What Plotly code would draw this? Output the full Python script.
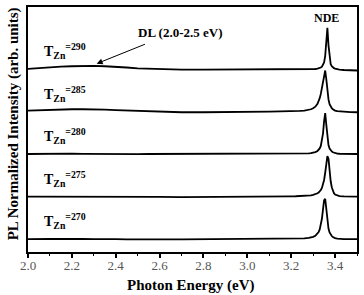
import plotly.graph_objects as go

energy = [2.00, 2.05, 2.10, 2.15, 2.20, 2.25, 2.30, 2.35, 2.40, 2.45,
          2.50, 2.55, 2.60, 2.70, 2.80, 2.90, 3.00, 3.05, 3.10, 3.15,
          3.20, 3.22, 3.24, 3.26, 3.28, 3.29, 3.30, 3.31, 3.32, 3.325,
          3.33, 3.335, 3.34, 3.345, 3.35, 3.355, 3.36, 3.365, 3.37, 3.375,
          3.38, 3.385, 3.39, 3.395, 3.40, 3.41, 3.42, 3.44, 3.47, 3.50]

pl_290 = [0.00, 0.02, 0.04, 0.05, 0.06, 0.07, 0.07, 0.06, 0.05, 0.03,
          0.01, 0.00, -0.01, -0.02, -0.02, -0.02, -0.02, -0.02, -0.02, -0.02,
          -0.02, -0.02, -0.02, -0.02, -0.015, -0.012, -0.01, -0.005, 0.003, 0.01,
          0.017, 0.03, 0.05, 0.085, 0.15, 0.30, 0.62, 0.96, 0.55, 0.23,
          0.11, 0.06, 0.03, 0.015, 0.005, -0.01, -0.018, -0.028, -0.035, -0.04]

pl_285 = [0.02, 0.03, 0.03, 0.04, 0.05, 0.05, 0.05, 0.04, 0.03, 0.02,
          0.01, 0.00, -0.01, -0.02, -0.02, -0.02, -0.015, -0.01, -0.005, 0.00,
          0.00, 0.005, 0.01, 0.02, 0.035, 0.05, 0.075, 0.11, 0.18, 0.23,
          0.31, 0.41, 0.55, 0.72, 0.88, 0.96, 0.76, 0.46, 0.28, 0.17,
          0.11, 0.075, 0.05, 0.03, 0.018, 0.005, 0.0, -0.01, -0.015, -0.02]

pl_280 = [0.00, 0.005, 0.00, 0.01, 0.01, 0.005, 0.00, 0.00, 0.005, 0.00,
          -0.005, 0.00, 0.00, 0.00, 0.00, 0.00, 0.00, 0.00, 0.00, 0.002,
          0.004, 0.005, 0.007, 0.011, 0.017, 0.022, 0.031, 0.046, 0.072, 0.096,
          0.13, 0.19, 0.30, 0.48, 0.77, 0.96, 0.69, 0.375, 0.21, 0.13,
          0.085, 0.06, 0.04, 0.028, 0.02, 0.01, 0.006, 0.003, 0.0, 0.0]

pl_275 = [0.00, 0.00, 0.005, 0.01, 0.01, 0.01, 0.005, 0.00, 0.00, 0.00,
          0.00, -0.005, -0.005, -0.01, -0.01, -0.005, 0.00, 0.00, 0.003, 0.005,
          0.007, 0.009, 0.012, 0.016, 0.024, 0.031, 0.04, 0.055, 0.079, 0.097,
          0.12, 0.155, 0.205, 0.28, 0.39, 0.56, 0.78, 0.95, 0.89, 0.59,
          0.36, 0.22, 0.12, 0.08, 0.05, 0.025, 0.012, 0.005, 0.0, 0.0]

pl_270 = [0.00, 0.01, 0.01, 0.005, 0.01, 0.005, 0.00, 0.005, 0.00, -0.005,
          0.00, 0.00, -0.005, -0.005, 0.00, -0.005, 0.00, 0.00, 0.003, 0.005,
          0.007, 0.009, 0.013, 0.018, 0.03, 0.039, 0.055, 0.081, 0.13, 0.17,
          0.23, 0.33, 0.48, 0.70, 0.91, 0.95, 0.65, 0.39, 0.25, 0.16,
          0.11, 0.075, 0.05, 0.035, 0.025, 0.012, 0.006, 0.002, 0.0, 0.0]

temperatures = ["290", "285", "280", "275", "270"]
series = [pl_290, pl_285, pl_280, pl_275, pl_270]
offsets = [4, 3, 2, 1, 0]

x_ticks = [2.0, 2.2, 2.4, 2.6, 2.8, 3.0, 3.2, 3.4]
x_ticklabels = ["2.0", "2.2", "2.4", "2.6", "2.8", "3.0", "3.2", "3.4"]

SERIF = "Liberation Serif, Times New Roman, serif"

fig = go.Figure()
for t, vals, off in zip(temperatures, series, offsets):
    fig.add_trace(go.Scatter(
        x=energy, y=[v + off for v in vals], mode="lines",
        line=dict(color="black", width=1.8), name=t, showlegend=False,
        hoverinfo="skip"))

annotations = []
for t, off in zip(temperatures, offsets):
    annotations.append(dict(
        x=2.065, y=off + 0.42, xref="x", yref="y", xanchor="left",
        yanchor="middle", showarrow=False,
        text="<b>T<sub>Zn</sub><sup>=" + t + "</sup></b>",
        font=dict(family=SERIF, size=14, color="black")))

annotations.append(dict(x=3.362, y=5.19, xref="x", yref="y", showarrow=False,
                        text="<b>NDE</b>", xanchor="center", yanchor="middle",
                        font=dict(family=SERIF, size=12, color="black")))
annotations.append(dict(x=2.693, y=4.84, xref="x", yref="y", showarrow=False,
                        text="<b>DL (2.0-2.5 eV)</b>", xanchor="center", yanchor="middle",
                        font=dict(family=SERIF, size=13, color="black")))
annotations.append(dict(x=2.313, y=4.12, xref="x", yref="y", ax=2.54, ay=4.59,
                        axref="x", ayref="y", text="", showarrow=True,
                        arrowhead=2, arrowsize=1.2, arrowwidth=1, arrowcolor="black"))
annotations.append(dict(x=-0.045, y=0.522, xref="paper", yref="paper", showarrow=False,
                        text="<b>PL Normalized Intensity (arb. units)</b>", textangle=-90,
                        xanchor="center", yanchor="middle",
                        font=dict(family=SERIF, size=15, color="black")))
annotations.append(dict(x=0.495, y=-0.135, xref="paper", yref="paper", showarrow=False,
                        text="<b>Photon Energy (eV)</b>", xanchor="center", yanchor="middle",
                        font=dict(family=SERIF, size=15, color="black")))

fig.update_layout(
    width=364, height=295,
    margin=dict(l=28, r=5, t=6, b=43),
    paper_bgcolor="white", plot_bgcolor="white",
    annotations=annotations,
    xaxis=dict(range=[2.0, 3.5], tickvals=x_ticks, ticktext=x_ticklabels,
               ticks="outside", ticklen=4, tickwidth=1.5, tickcolor="black",
               ticklabelstandoff=-4,
               minor=dict(dtick=0.1, tick0=2.0, ticks="outside", ticklen=2,
                          tickwidth=1, tickcolor="black"),
               showline=True, linecolor="black", linewidth=2, mirror=True,
               showgrid=False, zeroline=False,
               tickfont=dict(family=SERIF, size=13, color="#555555")),
    yaxis=dict(range=[-0.30, 5.45], showticklabels=False, ticks="",
               showline=True, linecolor="black", linewidth=2, mirror=True,
               showgrid=False, zeroline=False),
)

fig.write_html("out.html")
